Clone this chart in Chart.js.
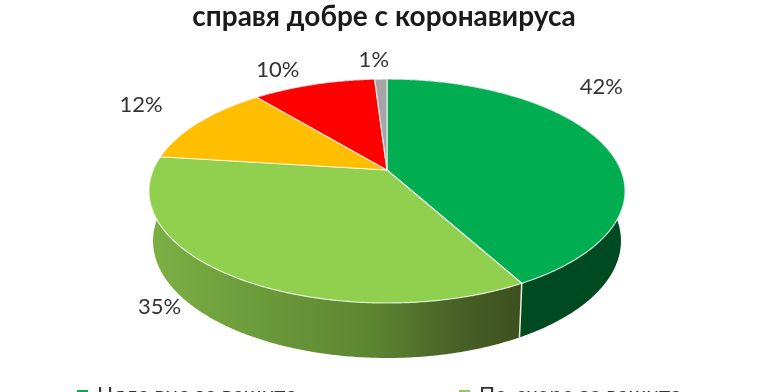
<!DOCTYPE html>
<html>
<head>
<meta charset="utf-8">
<title>справя добре с коронавируса</title>
<script src="https://cdn.jsdelivr.net/npm/chart.js@4/dist/chart.umd.min.js"></script>
<style>
  html, body { margin: 0; padding: 0; background: #fff; overflow: hidden; }
  #wrap { width: 768px; height: 392px; overflow: hidden; }
  canvas { display: block; filter: blur(0.5px); }
</style>
</head>
<body>
<div id="wrap"><canvas id="pie" width="768" height="392"></canvas></div>
<script>
const titleText = "справя добре с коронавируса";
// only the tops of the first two legend rows are visible in the reference
const labels = ["Цяла вие за вашите", "По-скоро за вашите", "Категория 3", "Категория 4", "Категория 5"];
const values = [42, 35, 12, 10, 1];

const topColors = ["#00AD50", "#90D04E", "#FFBE00", "#FF0000", "#A5A5A5"];
const wallColors = ["#004A21", null, "#8A6800", "#8A0000", "#595959"];
const labelOffsets = [[-2, -57], [-72, 31], [-58, -17], [-36, -15], [-7, -19]];

// perspective disc: circle point (u, v) goes to screen, v grows toward the viewer
const view = { cx: 387, cy: 170, rx: 233.8, ry: 108.06, tilt: 0.1875 };
const wall = { drop: 49, scaleX: 0.983, scaleY: 1.045 };

function project(angle, radius, isLower) {
  const u = Math.cos(angle) * radius;
  const v = Math.sin(angle) * radius;
  const w = 1 - view.tilt * v;
  return {
    x: view.cx + view.rx * (isLower ? wall.scaleX : 1) * u / w,
    y: view.cy + (isLower ? wall.drop : 0) + view.ry * (isLower ? wall.scaleY : 1) * v / w
  };
}

function rimPoints(start, end, isLower) {
  const steps = Math.max(2, Math.ceil((end - start) / 0.01));
  const pts = [];
  for (let i = 0; i <= steps; i++) {
    pts.push(project(start + (end - start) * i / steps, 1, isLower));
  }
  return pts;
}

function tracePoints(ctx, pts, moveFirst) {
  pts.forEach((p, i) => {
    if (i === 0 && moveFirst) ctx.moveTo(p.x, p.y);
    else ctx.lineTo(p.x, p.y);
  });
}

function wallFill(ctx, i) {
  if (wallColors[i]) return wallColors[i];
  const g = ctx.createLinearGradient(150, 0, 521, 0);
  g.addColorStop(0, "#7CB044");
  g.addColorStop(0.3, "#6B9A3A");
  g.addColorStop(0.6, "#5C8532");
  g.addColorStop(0.85, "#465E25");
  g.addColorStop(1, "#3D501E");
  return g;
}

const pie3d = {
  id: "pie3d",
  // the library works out the slice angles, this draws them tilted
  beforeDatasetsDraw(chart) {
    const ctx = chart.ctx;
    const arcs = chart.getDatasetMeta(0).data;

    ctx.save();
    arcs.forEach((arc, i) => {
      const top = rimPoints(arc.startAngle, arc.endAngle, false);
      const low = rimPoints(arc.startAngle, arc.endAngle, true);
      ctx.beginPath();
      tracePoints(ctx, top, true);
      tracePoints(ctx, low.slice().reverse(), false);
      ctx.closePath();
      ctx.fillStyle = wallFill(ctx, i);
      ctx.fill();
    });

    // light seam between the two front walls
    const seam = arcs[0].endAngle;
    const a = project(seam, 1, false);
    const b = project(seam, 1, true);
    ctx.beginPath();
    ctx.moveTo(a.x, a.y);
    ctx.lineTo(b.x, b.y);
    ctx.strokeStyle = "#E8EDE0";
    ctx.lineWidth = 1.5;
    ctx.stroke();

    arcs.forEach((arc, i) => {
      ctx.beginPath();
      ctx.moveTo(view.cx, view.cy);
      tracePoints(ctx, rimPoints(arc.startAngle, arc.endAngle, false), false);
      ctx.closePath();
      ctx.fillStyle = topColors[i];
      ctx.fill();
      ctx.strokeStyle = "rgba(255,255,255,0.75)";
      ctx.lineWidth = 1.2;
      ctx.stroke();
    });

    // value labels
    ctx.font = "22px Lato";
    ctx.fillStyle = "#333333";
    ctx.textAlign = "center";
    ctx.textBaseline = "middle";
    arcs.forEach((arc, i) => {
      const p = project((arc.startAngle + arc.endAngle) / 2, 1, false);
      ctx.fillText(values[i] + "%", p.x + labelOffsets[i][0], p.y + labelOffsets[i][1]);
    });

    // legend, cut off by the bottom of the picture
    ctx.font = "22px Lato";
    ctx.textAlign = "left";
    ctx.textBaseline = "alphabetic";
    [77, 459].forEach((x, i) => {
      ctx.fillStyle = topColors[i];
      ctx.fillRect(x, 390, 11, 11);
      ctx.fillStyle = "#333333";
      ctx.fillText(labels[i], x + 20, 402);
    });

    ctx.restore();
    return false;
  }
};

new Chart(document.getElementById("pie"), {
  type: "pie",
  data: {
    labels: labels,
    datasets: [{ data: values, backgroundColor: topColors, borderWidth: 0 }]
  },
  options: {
    responsive: false,
    animation: false,
    layout: { padding: 0 },
    plugins: {
      legend: { display: false },
      tooltip: { enabled: false },
      title: {
        display: true,
        text: titleText,
        color: "#1A1A1A",
        font: { family: "Lato", size: 28, weight: "bold" },
        padding: { top: 0, bottom: 0 }
      }
    }
  },
  plugins: [pie3d]
});
</script>
</body>
</html>
